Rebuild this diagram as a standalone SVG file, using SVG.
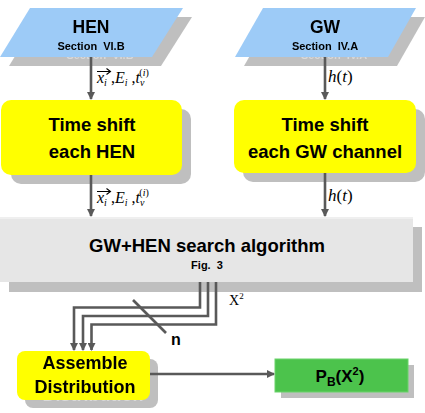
<svg xmlns="http://www.w3.org/2000/svg" width="425" height="413" viewBox="0 0 425 413">
<style>
.sh{fill:#bfbfbf}
.in{fill:#9dcbf7}
.yel{fill:#ffff00}
.t{font-family:"Liberation Sans",Arial,sans-serif;font-weight:bold;fill:#000;text-anchor:middle}
.m{font-family:"Liberation Serif","Times New Roman",serif;fill:#000}
.ln{fill:none;stroke:#595959;stroke-width:2.6}
.acc{fill:none;stroke:#000;stroke-width:1.1}
</style>
<defs>
<marker id="ah" markerWidth="8" markerHeight="8" viewBox="0 0 8 8" refX="7" refY="4" orient="auto" markerUnits="userSpaceOnUse">
<path d="M0,0 L8,4 L0,8 z" fill="#595959"/>
</marker>
<filter id="fsB" x="-0.1" y="-0.1" width="1.3" height="1.5" color-interpolation-filters="sRGB">
<feOffset in="SourceGraphic" dx="9" dy="9" result="o"/>
<feColorMatrix in="o" type="matrix" values="-0.042 -0.042 -0.042 0 0.85  -0.042 -0.042 -0.042 0 0.85  -0.042 -0.042 -0.042 0 0.85  0 0 0 1 0" result="g"/>
<feMerge><feMergeNode in="g"/><feMergeNode in="SourceGraphic"/></feMerge>
</filter>
<filter id="fsY" x="-0.1" y="-0.1" width="1.3" height="1.5" color-interpolation-filters="sRGB">
<feOffset in="SourceGraphic" dx="8" dy="8" result="o"/>
<feColorMatrix in="o" type="matrix" values="-0.05 -0.05 0 0 0.85  -0.05 -0.05 0 0 0.85  -0.05 -0.05 0 0 0.85  0 0 0 1 0" result="g"/>
<feMerge><feMergeNode in="g"/><feMergeNode in="SourceGraphic"/></feMerge>
</filter>
</defs>
<rect width="425" height="413" fill="#fff"/>

<g id="hen" filter="url(#fsB)">
<polygon class="in" points="30,8 183,8 152,57 0,57"/>
<text class="t" x="91" y="33" font-size="17.5">HEN</text>
<text class="t" x="91" y="50" font-size="11" xml:space="preserve">Section  VI.B</text>
</g>

<g id="gw" filter="url(#fsB)">
<polygon class="in" points="263,8 416,8 388,57 235,57"/>
<text class="t" x="325" y="33" font-size="17.5">GW</text>
<text class="t" x="325" y="50" font-size="11" xml:space="preserve">Section  IV.A</text>
</g>

<g id="shiftHEN">
<rect class="sh" x="11" y="109" width="180" height="75" rx="10"/>
<rect class="yel" x="1" y="100" width="181" height="75" rx="10"/>
<text class="t" x="92" y="131" font-size="18.5">Time shift</text>
<text class="t" x="92" y="158" font-size="18.5">each HEN</text>
</g>

<g id="shiftGW">
<rect class="sh" x="243" y="109" width="182" height="73" rx="10"/>
<rect class="yel" x="234" y="100" width="182" height="73" rx="10"/>
<text class="t" x="325" y="131" font-size="18.5">Time shift</text>
<text class="t" x="325" y="158" font-size="18.5">each GW channel</text>
</g>

<g id="search">
<rect class="sh" x="9" y="227" width="413" height="65"/>
<rect x="0" y="217" width="413" height="65" fill="#e6e6e6"/>
<rect x="0" y="217" width="413" height="2" fill="#efefef"/>
<text class="t" x="207" y="252" font-size="18.5">GW+HEN search algorithm</text>
<text class="t" x="207" y="269" font-size="11" xml:space="preserve">Fig.  3</text>
</g>

<g id="assemble" filter="url(#fsY)">
<rect class="yel" x="17" y="351" width="133" height="49" rx="8"/>
<text class="t" x="85" y="369" font-size="18">Assemble</text>
<text class="t" x="85" y="393" font-size="18">Distribution</text>
</g>

<g id="pb">
<rect class="sh" x="281" y="365" width="133" height="33"/>
<rect x="275" y="359" width="133" height="33" fill="#4cc34c" stroke="#6ad36a" stroke-width="1"/>
<text class="t" x="340" y="382" font-size="17">P<tspan font-size="12" dy="4">B</tspan><tspan dy="-4">(X</tspan><tspan font-size="11" dy="-7">2</tspan><tspan dy="7">)</tspan></text>
</g>

<g id="connectors">
<line class="ln" x1="91" y1="57" x2="91" y2="99" marker-end="url(#ah)"/>
<line class="ln" x1="325" y1="57" x2="325" y2="99" marker-end="url(#ah)"/>
<line class="ln" x1="91" y1="175" x2="91" y2="216" marker-end="url(#ah)"/>
<line class="ln" x1="325" y1="173" x2="325" y2="216" marker-end="url(#ah)"/>
<path class="ln" d="M200,282 V307.5 H74 V350" marker-end="url(#ah)"/>
<path class="ln" d="M208,282 V316 H83 V350" marker-end="url(#ah)"/>
<path class="ln" d="M216,282 V324.5 H91.5 V350" marker-end="url(#ah)"/>
<line class="ln" x1="133" y1="300" x2="166" y2="333"/>
<line class="ln" x1="150" y1="374" x2="274" y2="374" marker-end="url(#ah)"/>
</g>

<g id="labels">
<path class="acc" d="M97,71.5 H110 M106.5,68.5 L110.5,71.5 L106.5,74.5"/>
<text class="m" x="97" y="83" font-size="16"><tspan font-style="italic">x</tspan><tspan font-style="italic" font-size="10" dy="3">i</tspan><tspan dy="-3"> ,</tspan><tspan font-style="italic">E</tspan><tspan font-style="italic" font-size="10" dy="3">i</tspan><tspan dy="-3"> ,</tspan><tspan font-style="italic">t</tspan><tspan font-style="italic" font-size="10" dy="3">ν</tspan><tspan font-size="10" dx="-5" dy="-10">(</tspan><tspan font-style="italic" font-size="10">i</tspan><tspan font-size="10">)</tspan></text>
<path class="acc" d="M97,191.5 H110 M106.5,188.5 L110.5,191.5 L106.5,194.5"/>
<text class="m" x="97" y="203" font-size="16"><tspan font-style="italic">x</tspan><tspan font-style="italic" font-size="10" dy="3">i</tspan><tspan dy="-3"> ,</tspan><tspan font-style="italic">E</tspan><tspan font-style="italic" font-size="10" dy="3">i</tspan><tspan dy="-3"> ,</tspan><tspan font-style="italic">t</tspan><tspan font-style="italic" font-size="10" dy="3">ν</tspan><tspan font-size="10" dx="-5" dy="-10">(</tspan><tspan font-style="italic" font-size="10">i</tspan><tspan font-size="10">)</tspan></text>
<text class="m" x="328" y="82" font-size="17"><tspan font-style="italic">h</tspan>(<tspan font-style="italic">t</tspan>)</text>
<text class="m" x="328" y="201" font-size="17"><tspan font-style="italic">h</tspan>(<tspan font-style="italic">t</tspan>)</text>
<text class="m" x="229" y="305" font-size="14">X<tspan font-size="9" dy="-6">2</tspan></text>
<text class="t" x="176" y="345" font-size="16">n</text>
</g>
</svg>
